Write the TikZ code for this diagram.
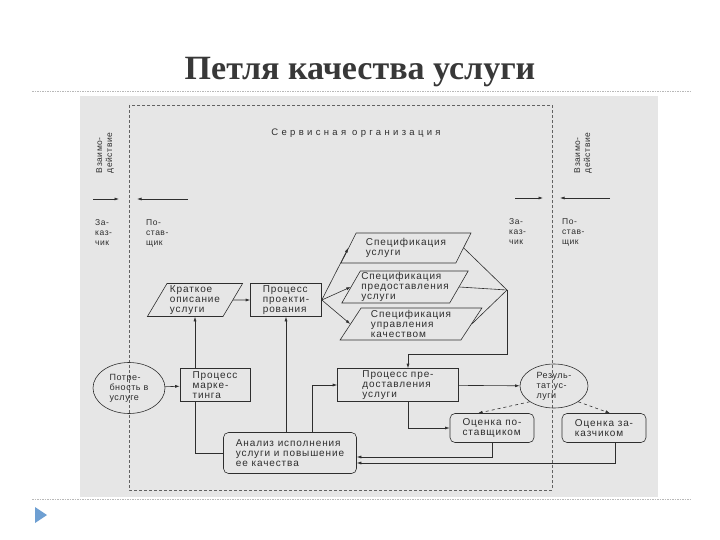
\documentclass[tikz,border=0pt]{standalone}
\usepackage{fontspec}
\setmainfont{Liberation Serif}
\setsansfont{Liberation Sans}
\newfontfamily\diagfont[LetterSpace=9]{Liberation Sans}
\newfontfamily\smallfont[LetterSpace=6]{Liberation Sans}
\newfontfamily\widefont[LetterSpace=35]{Liberation Sans}
\usetikzlibrary{shapes.geometric,arrows.meta}
\definecolor{scan}{HTML}{E6E6E6}
\definecolor{ink}{HTML}{2E2E2E}
\definecolor{slidetri}{HTML}{6E9FD2}
\begin{document}
\begin{tikzpicture}
  [x=1pt,y=-1pt,
   every node/.style={font=\diagfont\fontsize{10}{10.3}\selectfont,text=ink,align=left,inner sep=1pt},
   line/.style={draw=ink,line width=.6pt},
   arr/.style={line,-{Latex[length=4.5pt,width=3pt]}},
   box/.style={line,rectangle,minimum height=33pt},
   rbox/.style={line,rectangle,rounded corners=5pt},
   para/.style={line,trapezium,trapezium left angle=60,trapezium right angle=120,
                trapezium stretches=true},
   oval/.style={line,ellipse,inner sep=0pt,font=\smallfont\fontsize{9}{10}\selectfont},
   small/.style={font=\smallfont\fontsize{8.5}{10}\selectfont}]
  \useasboundingbox (0,0) rectangle (720,540);

  % slide
  \node[font=\bfseries\fontsize{34}{38}\selectfont,text=black!78,anchor=base] (title) at (360,80) {Петля качества услуги};
  \draw[gray!55,dash pattern=on 1.5pt off 1pt] (32,91) -- (690,91);
  \draw[gray!55,dash pattern=on 1.5pt off 1pt] (32,499) -- (690,499);
  \fill[scan] (80,96) rectangle (658,497);
  \fill[slidetri] (35,507) -- (35,523) -- (47,515) -- cycle;

  % service organisation frame
  \draw[ink!75,dash pattern=on 3pt off 2pt] (129,105) rectangle (552,490);
  \node[font=\widefont\fontsize{9.5}{10}\selectfont] (org) at (356,133) {Сервисная организация};

  % interaction labels
  \node[small,rotate=90] (inter1) at (105,153) {Взаимо-\\действие};
  \node[small,rotate=90] (inter2) at (583,153) {Взаимо-\\действие};
  \node[small,anchor=west] (cust1) at (94,233) {За-\\каз-\\чик};
  \node[small,anchor=west] (supp1) at (145,233) {По-\\став-\\щик};
  \node[small,anchor=west] (cust2) at (508,232) {За-\\каз-\\чик};
  \node[small,anchor=west] (supp2) at (561,232) {По-\\став-\\щик};

  \coordinate (la) at (93,199);  \coordinate (lb) at (119,199);
  \coordinate (lc) at (188,199); \coordinate (ld) at (137,199);
  \coordinate (ra) at (515,198); \coordinate (rb) at (543,198);
  \coordinate (rc) at (610,198); \coordinate (rd) at (560,198);

  % design
  \node[para,minimum width=96pt,minimum height=33pt] (krat) at (195,300) {Краткое\\описание\\услуги};
  \node[box,minimum width=71pt] (proekt) at (286,300) {Процесс\\проекти-\\рования};
  \node[para,minimum width=130pt,minimum height=30pt] (spec1) at (406,248) {Спецификация\\услуги};
  \node[para,minimum width=120pt,minimum height=31pt] (spec2) at (405,287) {Спецификация\\предоставления\\услуги};
  \node[para,minimum width=142pt,minimum height=32pt] (spec3) at (411,324) {Спецификация\\управления\\качеством};

  % delivery
  \node[oval,minimum width=72pt,minimum height=51pt] (potreb) at (129,388) {Потре-\\бность в\\услуге};
  \node[box,minimum width=70pt] (market) at (215,385) {Процесс\\марке-\\тинга};
  \node[box,minimum width=121pt] (dostav) at (398,385) {Процесс пре-\\доставления\\услуги};
  \node[oval,minimum width=68pt,minimum height=44pt] (result) at (554,386) {Резуль-\\тат ус-\\луги};
  \node[rbox,minimum width=84pt,minimum height=29pt] (ocen1) at (492,428) {Оценка по-\\ставщиком};
  \node[rbox,minimum width=84pt,minimum height=29pt] (ocen2) at (604,428) {Оценка за-\\казчиком};
  \node[rbox,minimum width=133pt,minimum height=41pt] (analiz) at (290,453) {Анализ исполнения\\услуги и повышение\\ее качества};

  \coordinate (join) at (507,290);
  \coordinate (turn) at (507,354);

  \foreach \from/\to in {la/lb,lc/ld,ra/rb,rc/rd,krat/proekt,potreb/market,dostav/result}
    \draw[arr] (\from) -- (\to);
  \foreach \s in {spec1,spec2,spec3}
    \draw[arr] (proekt.east) -- (\s.west);
  \foreach \s in {spec1,spec2,spec3}
    \draw[line] (\s.east) -- (join);

  \draw[arr] (join) -- (turn) -| ([xshift=10pt]dostav.north);
  \draw[arr] (krat.south |- market.north) -- (krat.south);
  \draw[line] (analiz.west) -| (krat.south |- market.south);
  \draw[arr] (proekt.south |- analiz.north) -- (proekt.south);
  \draw[arr] ([xshift=22pt]analiz.north) |- (dostav.west);
  \draw[arr] ([xshift=10pt]dostav.south) |- (ocen1.west);
  \draw[arr,dashed] (result.south west) -- ([xshift=-14pt]ocen1.north);
  \draw[arr,dashed] (result.south east) -- ([xshift=6pt]ocen2.north);
  \draw[arr] (ocen1.south) |- ([yshift=-4pt]analiz.east);
  \draw[arr] ([xshift=11pt]ocen2.south) |- ([yshift=-10pt]analiz.east);
\end{tikzpicture}
\end{document}
